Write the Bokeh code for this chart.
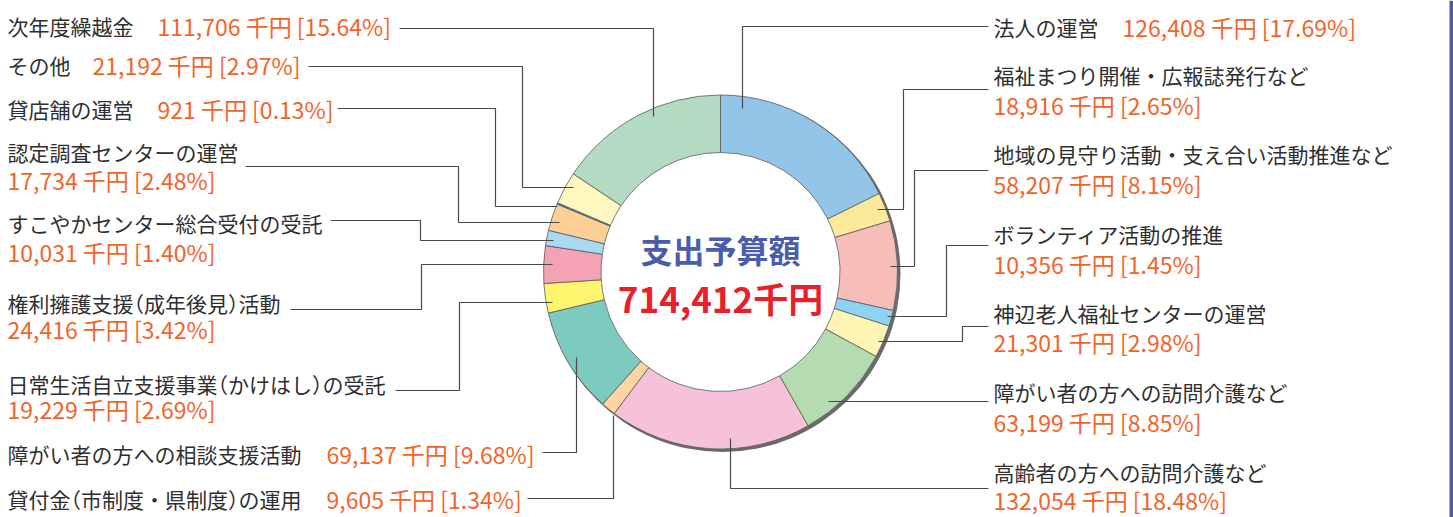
import math
from bokeh.plotting import figure
from bokeh.models import Range1d
from bokeh.core.properties import value
from bokeh.embed import file_html
from bokeh.resources import INLINE

W, H = 1453, 517

# ---------------- data ----------------
categories = [
    "法人の運営",
    "福祉まつり開催・広報誌発行など",
    "地域の見守り活動・支え合い活動推進など",
    "ボランティア活動の推進",
    "神辺老人福祉センターの運営",
    "障がい者の方への訪問介護など",
    "高齢者の方への訪問介護など",
    "貸付金（市制度・県制度）の運用",
    "障がい者の方への相談支援活動",
    "日常生活自立支援事業（かけはし）の受託",
    "権利擁護支援（成年後見）活動",
    "すこやかセンター総合受付の受託",
    "認定調査センターの運営",
    "貸店舗の運営",
    "その他",
    "次年度繰越金",
]
amounts = [126408, 18916, 58207, 10356, 21301, 63199, 132054, 9605,
           69137, 19229, 24416, 10031, 17734, 921, 21192, 111706]
percents = ["17.69", "2.65", "8.15", "1.45", "2.98", "8.85", "18.48", "1.34",
            "9.68", "2.69", "3.42", "1.40", "2.48", "0.13", "2.97", "15.64"]
colors = ["#92c5e8", "#fde99a", "#f7bdb8", "#8dd3f3", "#fef5b5", "#b4dcb0",
          "#f5c2da", "#fdd5a2", "#7ccbbe", "#fef46e", "#f4a3b5", "#a9daf3",
          "#fccf96", "#1aa3dc", "#fff7c0", "#b3dbc2"]
center_title = "支出予算額"
center_total = "714,412千円"

# ---------------- layout (pixel positions, y from top) ----------------
CX, CY = 720, 271.5
R_IN, R_OUT = 119.5, 177
NAME_EM = 21

# label: (x, name_y, value_y or None for one line, value_x for one line)
label_layout = [
    (993, 26, None, 1122),
    (993, 74, 104, None),
    (993, 153, 183, None),
    (993, 233, 263, None),
    (993, 312, 341, None),
    (993, 391, 421, None),
    (993, 471, 499, None),
    (7, 498, None, 326),
    (7, 453, None, 326),
    (7, 383, 408, None),
    (7, 302, 328, None),
    (7, 222, 251, None),
    (7, 151, 179, None),
    (7, 108, None, 157),
    (7, 64, None, 92),
    (7, 25, None, 157),
]
leaders = [
    [(742, 108), (742, 26), (988, 26)],
    [(877, 209), (903, 209), (903, 89), (988, 89)],
    [(890, 266), (914, 266), (914, 170), (988, 170)],
    [(887, 316), (946, 316), (946, 245), (988, 245)],
    [(878, 341), (962, 341), (962, 326), (988, 326)],
    [(828, 401), (988, 401)],
    [(730, 438), (730, 488), (988, 488)],
    [(613, 415), (613, 498), (527, 498)],
    [(576, 357), (576, 452), (542, 452)],
    [(552, 302), (459, 302), (459, 390), (395, 390)],
    [(552, 264), (421, 264), (421, 309), (290, 309)],
    [(553, 240), (420, 240), (420, 220), (330, 220)],
    [(559, 222), (458, 222), (458, 166), (245, 166)],
    [(557, 206), (495, 206), (495, 108), (337, 108)],
    [(573, 187), (522, 187), (522, 66), (308, 66)],
    [(653, 116), (653, 28), (399, 28)],
]


def Y(py):
    return H - py


def split_proportional(s):
    """Split a label into pieces so that full-width brackets take half an em."""
    pieces = []
    cur = ""
    cur_start = 0.0
    cursor = 0.0
    for ch in s:
        if ch in "（）":
            if cur:
                pieces.append((cur, cur_start))
                cur = ""
            if ch == "（":
                pieces.append((ch, cursor - 0.5))
            else:
                pieces.append((ch, cursor))
            cursor += 0.5
            cur_start = cursor
        else:
            if not cur:
                cur_start = cursor
            cur += ch
            cursor += 1.0
    if cur:
        pieces.append((cur, cur_start))
    return pieces


p = figure(width=W, height=H, x_range=Range1d(0, W), y_range=Range1d(0, H),
           x_axis_type=None, y_axis_type=None, toolbar_location=None,
           output_backend="svg", min_border=0, outline_line_color=None,
           background_fill_color="white", border_fill_color="white")
p.grid.visible = False

# right edge blue bar
p.quad(left=[1449], right=[W], bottom=[0], top=[H], fill_color="#4b5cad", line_color=None)

# shadow ring
p.annular_wedge(x=[CX + 2], y=[Y(CY + 2)], inner_radius=R_OUT - 8, outer_radius=R_OUT + 1,
                inner_radius_units="screen", outer_radius_units="screen",
                start_angle=0, end_angle=2 * math.pi, fill_color="#6a6a6a",
                line_color=None)

total = sum(amounts)
starts, ends = [], []
acc = 0.0
for a in amounts:
    t1 = acc / total * 2 * math.pi
    acc += a
    t2 = acc / total * 2 * math.pi
    starts.append(math.pi / 2 - t1)
    ends.append(math.pi / 2 - t2)

p.annular_wedge(x=[CX] * len(amounts), y=[Y(CY)] * len(amounts),
                inner_radius=R_IN, outer_radius=R_OUT,
                inner_radius_units="screen", outer_radius_units="screen",
                start_angle=starts, end_angle=ends, direction="clock",
                fill_color=colors, line_color="#5a5a5a", line_width=0.8)

# leader lines
p.multi_line(xs=[[pt[0] for pt in l] for l in leaders],
             ys=[[Y(pt[1]) for pt in l] for l in leaders],
             line_color="#4a4a4a", line_width=1.2)

FONT = value("Noto Sans CJK JP")
NAME_C = "#2f2f2f"
VAL_C = "#f26428"

nx, ny, nt = [], [], []
vx, vy, vt = [], [], []
for i, (x, yn, yv, xv) in enumerate(label_layout):
    val = f"{amounts[i]:,} 千円 [{percents[i]}%]"
    for piece, off in split_proportional(categories[i]):
        nx.append(x + off * NAME_EM); ny.append(Y(yn)); nt.append(piece)
    if yv is None:
        vx.append(xv); vy.append(Y(yn))
    else:
        vx.append(x); vy.append(Y(yv))
    vt.append(val)

p.text(x=nx, y=ny, text=nt, text_font=FONT, text_font_size=f"{NAME_EM}px",
       text_color=NAME_C, text_baseline="middle", text_align="left")
p.text(x=vx, y=vy, text=vt, text_font=FONT, text_font_size="23px",
       text_color=VAL_C, text_baseline="middle", text_align="left")

# center texts
p.text(x=[CX], y=[Y(248)], text=[center_title], text_font=FONT, text_font_size="32px",
       text_font_style="bold", text_color="#4b5cad", text_baseline="middle",
       text_align="center")
p.text(x=[CX], y=[Y(297)], text=[center_total], text_font=FONT, text_font_size="35px",
       text_font_style="bold", text_color="#e8202a", text_baseline="middle",
       text_align="center")

open("out.html", "w").write(file_html(p, INLINE))
